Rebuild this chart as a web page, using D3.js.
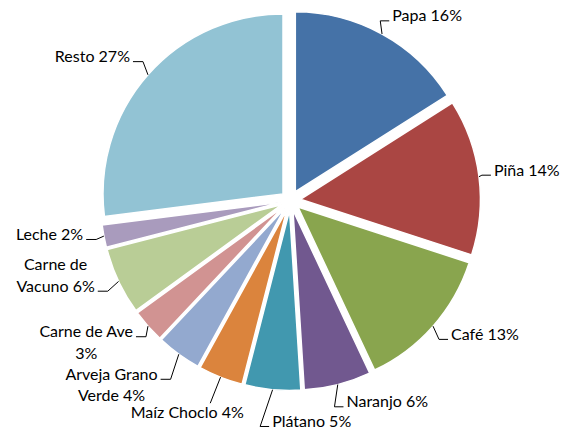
<!DOCTYPE html>
<html>
<head>
<meta charset="utf-8">
<script src="https://cdn.jsdelivr.net/npm/d3@7"></script>
<style>
  body { margin: 0; background: #fff; }
  text { font-family: Lato, "Open Sans", sans-serif; font-size: 16px; fill: #000; }
</style>
</head>
<body>
<div id="chart"></div>
<script>
// data
var categories = ["Papa", "Piña", "Café", "Naranjo", "Plátano", "Maíz Choclo",
                  "Arveja Grano Verde", "Carne de Ave", "Carne de Vacuno", "Leche", "Resto"];
var values = [16, 14, 13, 6, 5, 4, 4, 3, 6, 2, 27];
// label text split into lines as in the original
var labelLines = [["Papa 16%"], ["Piña 14%"], ["Café 13%"], ["Naranjo 6%"], ["Plátano 5%"],
                  ["Maíz Choclo 4%"], ["Arveja Grano", "Verde 4%"], ["Carne de Ave", "3%"],
                  ["Carne de", "Vacuno 6%"], ["Leche 2%"], ["Resto 27%"]];
var colors = ["#4572A7", "#AA4643", "#89A54E", "#71588F", "#4198AF", "#DB843D",
              "#93A9CF", "#D19392", "#B9CD96", "#A99BBD", "#92C3D4"];

// layout
var width = 573, height = 429;
var cx = 290.5, cy = 200.5, radius = 180, explode = 10;
var lineH = 21.5;
// distance of the leader end from the centre, and which text line it meets
var labelDist  = [205, 202, 210, 213, 227, 218, 221, 206, 213, 208, 210];
var attachLine = [0, 0, 0, 0, 0, 0, 0, 0, 1, 0, 0];

var svg = d3.select("#chart").append("svg")
    .attr("width", width)
    .attr("height", height);

var g = svg.append("g")
    .attr("transform", "translate(" + cx + "," + cy + ")");

var pie = d3.pie().sort(null).value(function(d) { return d; });
var arcs = pie(values);

var arc = d3.arc().innerRadius(0).outerRadius(radius);

function mid(d) { return (d.startAngle + d.endAngle) / 2; }

// slices, each pushed out along its middle angle
g.selectAll("path.slice")
    .data(arcs)
  .enter().append("path")
    .attr("class", "slice")
    .attr("d", arc)
    .attr("fill", function(d, i) { return colors[i]; })
    .attr("stroke", "#fff")
    .attr("stroke-width", 1.5)
    .attr("transform", function(d) {
      var a = mid(d);
      return "translate(" + (explode * Math.sin(a)) + "," + (-explode * Math.cos(a)) + ")";
    });

// labels and leader lines
arcs.forEach(function(d, i) {
  var a = mid(d);
  var sx = (explode + radius) * Math.sin(a), sy = -(explode + radius) * Math.cos(a);
  var ex = labelDist[i] * Math.sin(a), ey = -labelDist[i] * Math.cos(a);
  var right = Math.sin(a) > 0 || i == 4;
  var lines = labelLines[i];

  var pts;
  var tx, ty, anchor;
  if (i == 5) {
    // label hanging under its leader
    pts = [[sx, sy], [ex, ey]];
    tx = ex - 23; ty = ey + 9; anchor = "middle";
  } else if (right) {
    pts = [[sx, sy], [ex - 9, ey], [ex, ey]];
    tx = ex + 3; anchor = "start";
    ty = ey - 5 - attachLine[i] * lineH;
  } else {
    pts = [[sx, sy], [ex + 10, ey], [ex, ey]];
    anchor = "end";
    ty = ey - 5 - attachLine[i] * lineH;
    tx = ex - 3;
  }

  g.append("path")
    .attr("d", d3.line()(pts))
    .attr("fill", "none")
    .attr("stroke", "#000")
    .attr("stroke-width", 1);

  var t = g.append("text")
    .attr("text-anchor", anchor)
    .attr("x", tx)
    .attr("y", ty)
    .attr("dy", "0.35em");

  if (lines.length == 1) {
    t.text(lines[0]);
  } else {
    // multi-line labels are centred in their box; box right edge at tx
    t.attr("text-anchor", "middle");
    var tmp = g.append("text").text(lines[0]);
    var w0 = tmp.node().getComputedTextLength();
    tmp.text(lines[1]);
    var w1 = tmp.node().getComputedTextLength();
    tmp.remove();
    var boxW = Math.max(w0, w1);
    var midX = tx - boxW / 2;
    lines.forEach(function(l, k) {
      t.append("tspan")
        .attr("x", midX)
        .attr("y", ty + k * lineH)
        .attr("dy", "0.35em")
        .text(l);
    });
  }
});
</script>
</body>
</html>
